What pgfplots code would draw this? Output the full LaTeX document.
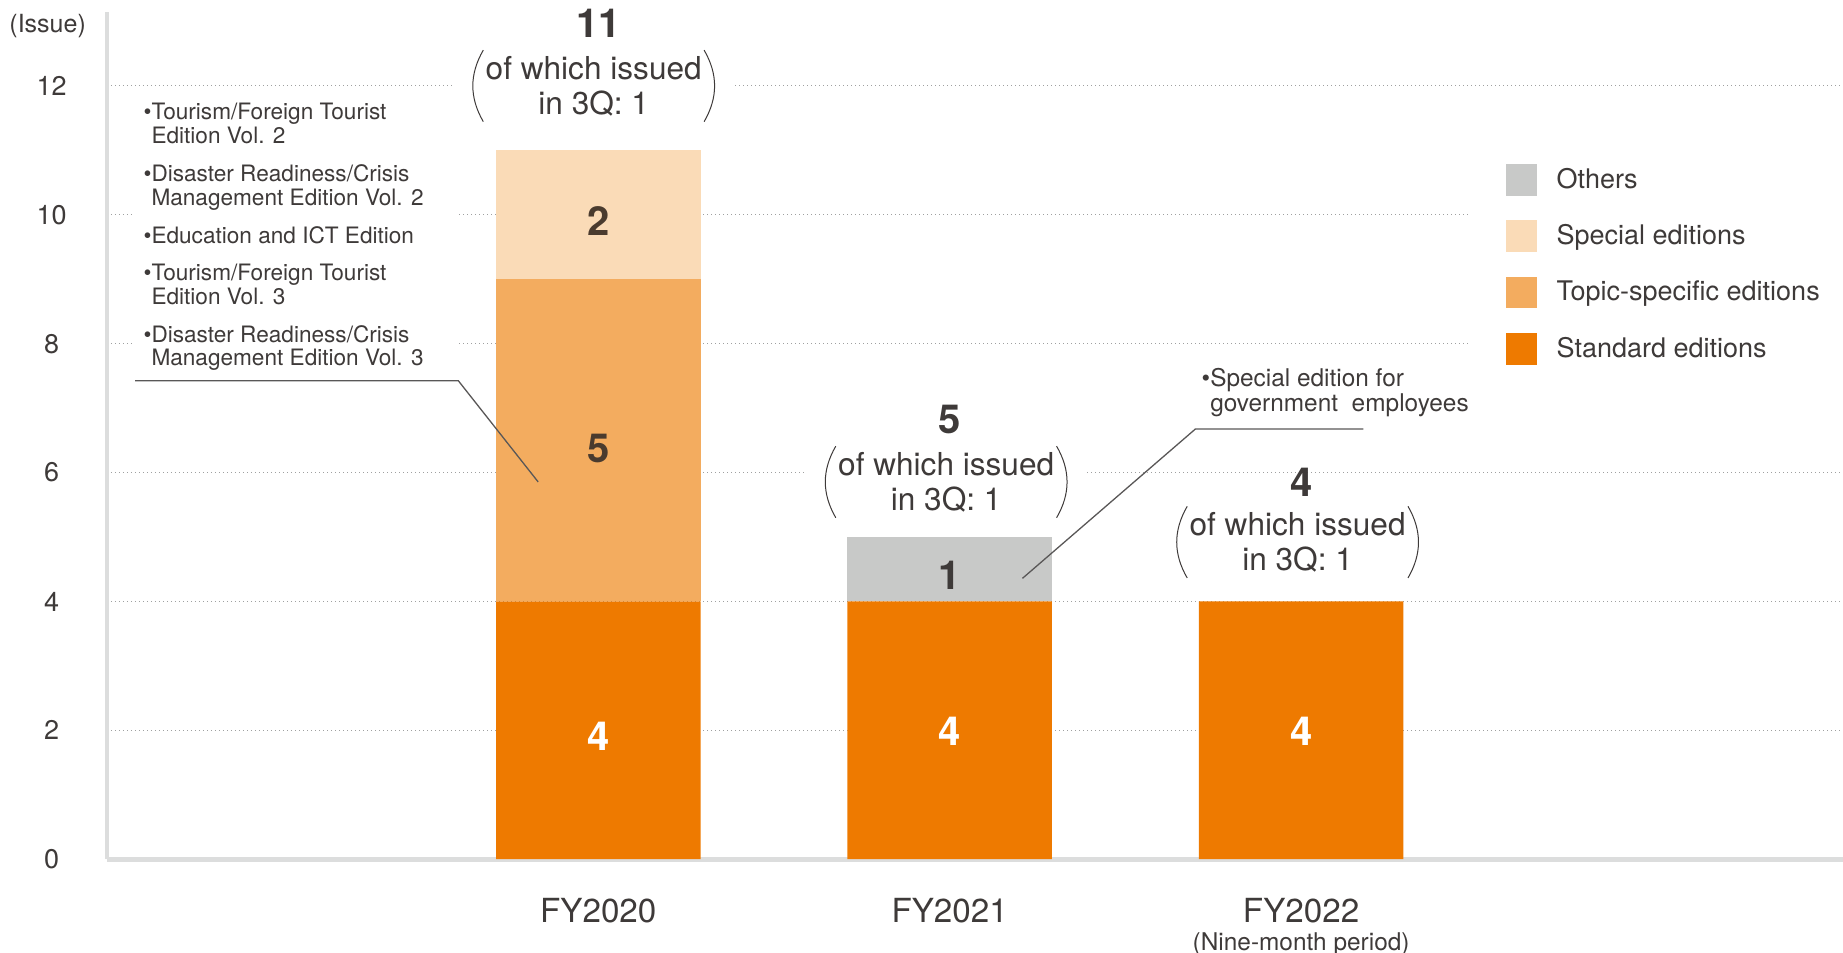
\documentclass[border=0pt]{standalone}
\usepackage{fontspec}
\setmainfont{TeX Gyre Heros}
\usepackage{pgfplots}
\usepackage{pgfplotstable}
\pgfplotsset{compat=1.18}

\definecolor{stdorange}{HTML}{EE7A00}
\definecolor{topicorange}{HTML}{F3AC5F}
\definecolor{specialpeach}{HTML}{FADBB7}
\definecolor{othersgray}{HTML}{C8C9C8}
\definecolor{txt}{HTML}{3E3A39}
\definecolor{valtxt}{HTML}{4A3B2E}
\definecolor{axgray}{HTML}{DCDDDD}
\definecolor{gridgray}{HTML}{9FA0A0}
\definecolor{leader}{HTML}{595757}

\newcommand\fs[2]{\fontsize{#1}{#2}\selectfont}

% issues per fiscal year, by edition type
\pgfplotstableread{
x std topic special others
0 4 5 2 0
1 4 0 0 1
2 4 0 0 0
}\editions

\begin{document}
\begin{tikzpicture}
\useasboundingbox (0,0) rectangle (921.5pt,476.5pt);
\begin{axis}[
  at={(53.5pt,46.9pt)}, anchor=south west,
  scale only axis, width=868pt, height=423.7pt,
  xmin=-1.398, xmax=3.542, ymin=0, ymax=13.15,
  ybar stacked, bar width=0.582,
  clip=false,
  axis lines*=left,
  x axis line style={draw=axgray, line width=2.5pt, -},
  y axis line style={draw=axgray, line width=2.3pt, -},
  major tick length=0pt,
  /pgf/number format/assume math mode=true,
  xtick={0,1,2},
  xticklabels={FY2020,FY2021,{FY2022\\[-4pt]{\fs{12.2}{13}(Nine-month period)}}},
  xticklabel style={font=\fs{16.6}{18}, text=txt, anchor=north, inner sep=0pt, yshift=-19.5pt, align=center},
  ytick={0,2,...,12},
  yticklabel style={font=\fs{13.5}{14}, text=txt, anchor=center, inner sep=0pt, xshift=-27.7pt},
  ymajorgrids,
  grid style={draw=gridgray, line width=0.6pt, dash pattern=on 0.6pt off 1.4pt},
  ylabel={(Issue)},
  every axis y label/.style={at={(axis description cs:-0.0342,0.9833)}, anchor=center, font=\fs{12.5}{14}, text=txt, inner sep=0pt},
  reverse legend,
  legend cell align=left,
  legend image code/.code={\fill[#1] (0pt,-7.95pt) rectangle (15.9pt,7.95pt);},
  legend style={at={(axis description cs:0.7847,0.8636)}, anchor=north west, draw=none, fill=white,
    inner sep=18pt, font=\fs{13.5}{14}, text=txt, row sep=12.3pt,
    /tikz/every odd column/.append style={column sep=7.6pt}},
]
\addplot[fill=stdorange, draw=none] table[x=x, y=std]{\editions};
\addlegendentry{Standard editions}
\addplot[fill=topicorange, draw=none] table[x=x, y=topic]{\editions};
\addlegendentry{Topic-specific editions}
\addplot[fill=specialpeach, draw=none] table[x=x, y=special]{\editions};
\addlegendentry{Special editions}
\addplot[fill=othersgray, draw=none] table[x=x, y=others]{\editions};
\addlegendentry{Others}

% anchor points for the labels and callouts
\coordinate (s20a) at (axis cs:0,1.9);
\coordinate (s20b) at (axis cs:0,6.38);
\coordinate (s20c) at (axis cs:0,9.9);
\coordinate (s21a) at (axis cs:1,1.99);
\coordinate (s21b) at (axis cs:1,4.4);
\coordinate (s22a) at (axis cs:2,1.99);
\coordinate (t20) at (axis cs:0,12.967);
\coordinate (t21) at (axis cs:1,6.821);
\coordinate (t22) at (axis cs:2,5.854);
\coordinate (q20) at (axis cs:-0.013,12.0);
\coordinate (q21) at (axis cs:0.99,5.854);
\coordinate (q22) at (axis cs:1.99,4.92);
\coordinate (l20) at (axis cs:-1.295,11.471);
\coordinate (a1) at (axis cs:-1.318,7.423);
\coordinate (a2) at (axis cs:-0.398,7.423);
\coordinate (a3) at (axis cs:-0.171,5.854);
\coordinate (l21) at (axis cs:1.716,7.331);
\coordinate (b1) at (axis cs:2.177,6.675);
\coordinate (b2) at (axis cs:1.699,6.675);
\coordinate (b3) at (axis cs:1.207,4.358);
\end{axis}

% segment values
\node[font=\bfseries\fs{20}{20}, text=white, inner sep=0pt] at (s20a) {4};
\node[font=\bfseries\fs{20}{20}, text=valtxt, inner sep=0pt] at (s20b) {5};
\node[font=\bfseries\fs{20}{20}, text=valtxt, inner sep=0pt] at (s20c) {2};
\node[font=\bfseries\fs{20}{20}, text=white, inner sep=0pt] at (s21a) {4};
\node[font=\bfseries\fs{20}{20}, text=txt, inner sep=0pt] at (s21b) {1};
\node[font=\bfseries\fs{20}{20}, text=white, inner sep=0pt] at (s22a) {4};

% totals
\node[font=\bfseries\fs{20}{20}, text=txt, inner sep=0pt] at (t20) {11};
\node[font=\bfseries\fs{20}{20}, text=txt, inner sep=0pt] at (t21) {5};
\node[font=\bfseries\fs{20}{20}, text=txt, inner sep=0pt] at (t22) {4};

\foreach \p in {20,21,22}{
  \node[name=p\p, align=center, font=\fs{15.8}{17.6}, text=txt, fill=white, inner xsep=16pt, inner ysep=2pt]
    at (q\p) {of which issued\\in 3Q: 1};
  \draw[txt, line width=0.5pt] ([xshift=15pt,yshift=17.9pt]p\p.west) to[bend right=30] ([xshift=15pt,yshift=-17.9pt]p\p.west);
  \draw[txt, line width=0.5pt] ([xshift=-15pt,yshift=17.9pt]p\p.east) to[bend left=30] ([xshift=-15pt,yshift=-17.9pt]p\p.east);
}

% callouts
\node[anchor=base west, xshift=-6pt, inner xsep=6pt, inner ysep=0pt, fill=white, text=txt, font=\fs{11.3}{11.75}]
  at (l20) {%
  \begin{tabular}[t]{@{}l@{\hspace{10.5pt}}}
  •Tourism/Foreign Tourist\\
  \phantom{•}Edition Vol. 2\\[7.05pt]
  •Disaster Readiness/Crisis\\
  \phantom{•}Management Edition Vol. 2\\[7.05pt]
  •Education and ICT Edition\\[7.05pt]
  •Tourism/Foreign Tourist\\
  \phantom{•}Edition Vol. 3\\[7.05pt]
  •Disaster Readiness/Crisis\\
  \phantom{•}Management Edition Vol. 3
  \end{tabular}};
\draw[leader, line width=0.65pt] (a1) -- (a2) -- (a3);

\node[anchor=base west, inner sep=0pt, text=txt, font=\fs{12.2}{12.3}]
  at (l21) {%
  \begin{tabular}[t]{@{}l@{}}
  •Special edition for\\
  \phantom{•}government\ \ employees
  \end{tabular}};
\draw[leader, line width=0.65pt] (b1) -- (b2) -- (b3);
\end{tikzpicture}
\end{document}
